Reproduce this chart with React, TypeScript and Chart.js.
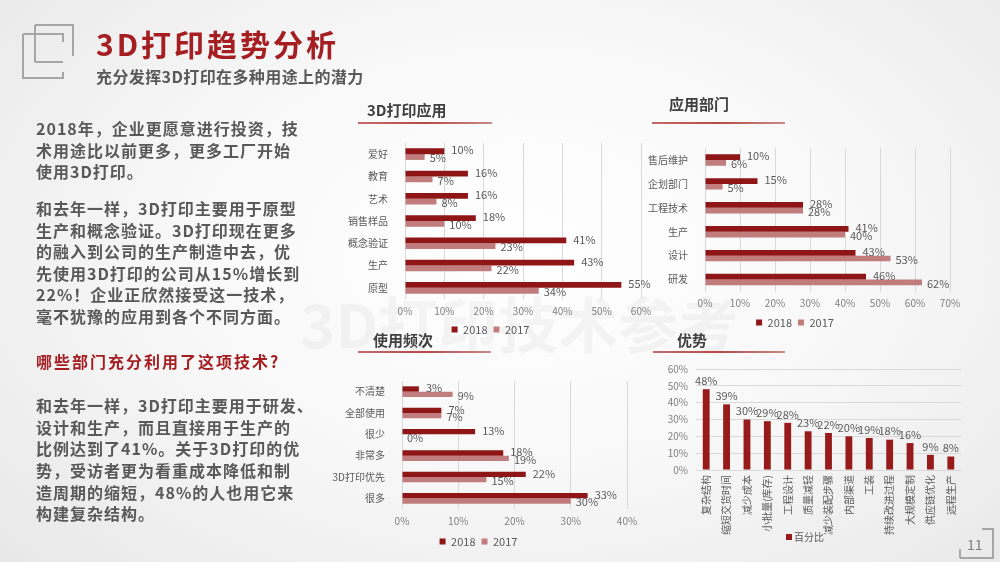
import React, { useEffect, useRef } from "react";
import { Chart, registerables } from "chart.js";
Chart.register(...registerables);

const FONT = "'Noto Sans CJK SC', 'Noto Sans', sans-serif";
Chart.defaults.font.family = FONT;

// ---- data ----
const appCategories = ["爱好", "教育", "艺术", "销售样品", "概念验证", "生产", "原型"];
const app2018 = [10, 16, 16, 18, 41, 43, 55];
const app2017 = [5, 7, 8, 10, 23, 22, 34];

const deptCategories = ["售后维护", "企划部门", "工程技术", "生产", "设计", "研发"];
const dept2018 = [10, 15, 28, 41, 43, 46];
const dept2017 = [6, 5, 28, 40, 53, 62];

const freqCategories = ["不清楚", "全部使用", "很少", "非常多", "3D打印优先", "很多"];
const freq2018 = [3, 7, 13, 18, 22, 33];
const freq2017 = [9, 7, 0, 19, 15, 30];

const advCategories = ["复杂结构", "缩短交货时间", "减少成本", "小批量(库存)", "工程设计", "质量减轻", "减少装配步骤", "内部渠道", "工装", "持续改进过程", "大规模定制", "供应链优化", "远程生产"];
const advValues = [48, 39, 30, 29, 28, 23, 22, 20, 19, 18, 16, 9, 8];

const seriesLabels = ["2018", "2017"];
const advSeriesLabel = "百分比";

// ---- text ----
const para1 = ["2018年，企业更愿意进行投资，技", "术用途比以前更多，更多工厂开始", "使用3D打印。"];
const para1Y = [128, 150, 171];
const para2 = ["和去年一样，3D打印主要用于原型", "生产和概念验证。3D打印现在更多", "的融入到公司的生产制造中去，优", "先使用3D打印的公司从15%增长到", "22%！企业正欣然接受这一技术，", "毫不犹豫的应用到各个不同方面。"];
const para2Y = [208, 229.5, 251, 272.5, 294, 315.5];
const heading = "哪些部门充分利用了这项技术?";
const para3 = ["和去年一样，3D打印主要用于研发、", "设计和生产，而且直接用于生产的", "比例达到了41%。关于3D打印的优", "势，受访者更为看重成本降低和制", "造周期的缩短，48%的人也用它来", "构建复杂结构。"];
const para3Y = [405, 426.7, 448.3, 470, 491.5, 513];

const RED = "#8e1616";
const PINK = "#c17d7d";
const ADV = "#981b1b";

const barLabelPlugin = {
  id: "barLabels",
  afterDatasetsDraw(chart: any, _args: any, opts: any) {
    const ctx = chart.ctx;
    ctx.save();
    ctx.font = `${opts.size || 11}px ${FONT}`;
    ctx.fillStyle = "#595959";
    chart.data.datasets.forEach((ds: any, di: number) => {
      const meta = chart.getDatasetMeta(di);
      meta.data.forEach((el: any, i: number) => {
        const text = ds.data[i] + "%";
        if (opts.horizontal) {
          ctx.textAlign = "left";
          ctx.textBaseline = "middle";
          ctx.fillText(text, el.x + (di === 0 ? 7 : 5), el.y + (di === 0 ? -1 : 1));
        } else {
          ctx.textAlign = "center";
          ctx.textBaseline = "bottom";
          ctx.fillText(text, el.x, el.y - 3);
        }
      });
    });
    ctx.restore();
  },
};

const advLegendPlugin = {
  id: "advLegend",
  afterDraw(chart: any, _args: any, opts: any) {
    const ctx = chart.ctx;
    const ds = chart.data.datasets[0];
    ctx.save();
    ctx.fillStyle = ds.backgroundColor;
    ctx.fillRect(opts.x, opts.y - 3, 6, 6);
    ctx.fillStyle = "#595959";
    ctx.font = `10px ${FONT}`;
    ctx.textBaseline = "middle";
    ctx.textAlign = "left";
    ctx.fillText(ds.label, opts.x + 8, opts.y);
    ctx.restore();
  },
};

function hbarConfig(labels: string[], d18: number[], d17: number[], max: number, g: any) {
  return {
    type: "bar",
    data: {
      labels,
      datasets: [
        { label: seriesLabels[0], data: d18, backgroundColor: RED, categoryPercentage: g.cat, barPercentage: 1 },
        { label: seriesLabels[1], data: d17, backgroundColor: PINK, categoryPercentage: g.cat, barPercentage: 1 },
      ],
    },
    options: {
      indexAxis: "y",
      responsive: false,
      animation: false,
      layout: { padding: { left: 0, right: g.padRight, top: g.padTop, bottom: 0 } },
      scales: {
        x: {
          min: 0,
          max,
          ticks: { stepSize: 10, callback: (v: any) => v + "%", padding: 6, color: "#7f7f7f", font: { size: 10, family: FONT } },
          grid: { color: "#d9d9d9", drawTicks: false },
          border: { display: false },
          afterFit: (s: any) => { s.height = g.xH; },
        },
        y: {
          ticks: { padding: 9, color: "#595959", font: { size: 10, family: FONT } },
          grid: { display: false },
          border: { display: false },
          afterFit: (s: any) => { s.width = g.yW; },
        },
      },
      plugins: {
        legend: {
          position: "bottom",
          labels: { boxWidth: 6, boxHeight: 6, padding: 6, color: "#595959", font: { size: 11, family: FONT } },
        },
        tooltip: { enabled: false },
        barLabels: { horizontal: true, size: 11 },
      },
    },
    plugins: [barLabelPlugin],
  };
}

function advConfig() {
  return {
    type: "bar",
    data: {
      labels: advCategories,
      datasets: [{ label: advSeriesLabel, data: advValues, backgroundColor: ADV, categoryPercentage: 0.8, barPercentage: 0.42 }],
    },
    options: {
      responsive: false,
      animation: false,
      layout: { padding: { left: 0, right: 19, top: 8, bottom: 0 } },
      scales: {
        x: {
          grid: { display: false, drawTicks: false },
          border: { display: false },
          ticks: { autoSkip: false, maxRotation: 90, minRotation: 90, padding: 5, color: "#595959", font: { size: 10, family: FONT } },
          afterFit: (s: any) => { s.height = 80; },
        },
        y: {
          min: 0,
          max: 60,
          ticks: { stepSize: 10, callback: (v: any) => v + "%", padding: 8, color: "#7f7f7f", font: { size: 10, family: FONT } },
          grid: { color: "#d9d9d9", drawTicks: false },
          border: { display: false },
          afterFit: (s: any) => { s.width = 46; },
        },
      },
      plugins: {
        legend: { display: false },
        tooltip: { enabled: false },
        barLabels: { horizontal: false, size: 11 },
        advLegend: { x: 136, y: 182 },
      },
    },
    plugins: [barLabelPlugin, advLegendPlugin],
  };
}

function ChartBox({ left, top, width, height, make }: any) {
  const ref = useRef<HTMLCanvasElement | null>(null);
  useEffect(() => {
    const chart = new Chart(ref.current as any, make() as any);
    return () => chart.destroy();
  }, []);
  return <canvas ref={ref} width={width} height={height} style={{ position: "absolute", left, top, width, height }} />;
}

const lineStyle = (segs: number[][], color: string) =>
  segs.map((s, i) => {
    const [x1, y1, x2, y2] = s;
    const horiz = y1 === y2;
    return (
      <div
        key={i}
        style={{
          position: "absolute",
          left: Math.min(x1, x2) - (horiz ? 0 : 1),
          top: Math.min(y1, y2) - (horiz ? 1 : 0),
          width: horiz ? Math.abs(x2 - x1) : 2,
          height: horiz ? 2 : Math.abs(y2 - y1),
          background: color,
        }}
      />
    );
  });

const iconSegs = [
  [35, 25, 74, 25], [73, 25, 73, 56], [35, 25, 35, 62], [35, 62, 63, 62],
  [23, 34, 64, 34], [63, 34, 63, 42], [23, 34, 23, 79], [23, 78, 64, 78], [63, 72, 63, 78],
];
const pageSegs = [[982, 529, 994, 529], [993, 529, 993, 559], [960, 558, 994, 558], [960, 549, 960, 558]];

function TextLines({ lines, ys, color, size, spacing }: any) {
  return lines.map((t: string, i: number) => (
    <div
      key={i}
      style={{
        position: "absolute",
        left: 36,
        top: ys[i] - 11,
        height: 22,
        lineHeight: "22px",
        fontSize: size,
        fontWeight: 700,
        color,
        letterSpacing: spacing,
        whiteSpace: "nowrap",
        fontFamily: FONT,
      }}
    >
      {t}
    </div>
  ));
}

function SectionTitle({ text, x, y, lx1, lx2, ly }: any) {
  return (
    <>
      <div style={{ position: "absolute", left: x, top: y - 11, lineHeight: "22px", fontSize: 15, fontWeight: 700, color: "#404040", fontFamily: FONT, whiteSpace: "nowrap" }}>{text}</div>
      <div style={{ position: "absolute", left: lx1, top: ly - 1, width: lx2 - lx1, height: 2, background: "linear-gradient(to right, #c46a68, #b84a48 50%, #c98a88)" }} />
    </>
  );
}

export default function App() {
  return (
    <div
      style={{
        position: "fixed",
        left: 0,
        top: 0,
        width: 1000,
        height: 562,
        overflow: "hidden",
        fontFamily: FONT,
        background: "radial-gradient(ellipse 75% 85% at 52% 45%, #ffffff 0%, #f8f8f8 45%, #e6e6e6 100%)",
      }}
    >
      {/* watermark */}
      <div style={{ position: "absolute", left: 300, top: 286, fontSize: 60, fontWeight: 700, color: "rgba(0,0,0,0.035)", whiteSpace: "nowrap", lineHeight: "72px" }}>3D打印技术参考</div>

      {lineStyle(iconSegs, "#a6a6a6")}
      <div style={{ position: "absolute", left: 96, top: 24, lineHeight: "38px", fontSize: 30, fontWeight: 700, color: "#a41e22", letterSpacing: 3, whiteSpace: "nowrap" }}>3D打印趋势分析</div>
      <div style={{ position: "absolute", left: 96, top: 65, lineHeight: "22px", fontSize: 16, fontWeight: 700, color: "#595959", letterSpacing: 0.4, whiteSpace: "nowrap" }}>充分发挥3D打印在多种用途上的潜力</div>

      <TextLines lines={para1} ys={para1Y} color="#595959" size={16} spacing={1} />
      <TextLines lines={para2} ys={para2Y} color="#595959" size={16} spacing={1} />
      <TextLines lines={[heading]} ys={[361]} color="#a41e22" size={16} spacing={2} />
      <TextLines lines={para3} ys={para3Y} color="#595959" size={16} spacing={1} />

      <SectionTitle text="3D打印应用" x={367} y={110} lx1={358} lx2={492} ly={123} />
      <SectionTitle text="应用部门" x={669} y={104} lx1={652} lx2={785} ly={123} />
      <SectionTitle text="使用频次" x={373} y={340} lx1={358} lx2={491} ly={352} />
      <SectionTitle text="优势" x={677} y={340} lx1={653} lx2={785} ly={352} />

      <ChartBox left={340} top={128} width={320} height={217} make={() => hbarConfig(appCategories, app2018, app2017, 60, { cat: 0.52, padRight: 19, padTop: 7, xH: 19, yW: 65 })} />
      <ChartBox left={640} top={133} width={360} height={205} make={() => hbarConfig(deptCategories, dept2018, dept2017, 70, { cat: 0.48, padRight: 50, padTop: 8, xH: 19.5, yW: 65 })} />
      <ChartBox left={330} top={366} width={330} height={191} make={() => hbarConfig(freqCategories, freq2018, freq2017, 40, { cat: 0.5, padRight: 33, padTop: 8, xH: 21, yW: 72 })} />
      <ChartBox left={650} top={355} width={330} height={195} make={advConfig} />

      {lineStyle(pageSegs, "#a6a6a6")}
      <div style={{ position: "absolute", left: 967, top: 535, lineHeight: "18px", fontSize: 14, color: "#808080" }}>11</div>
    </div>
  );
}
